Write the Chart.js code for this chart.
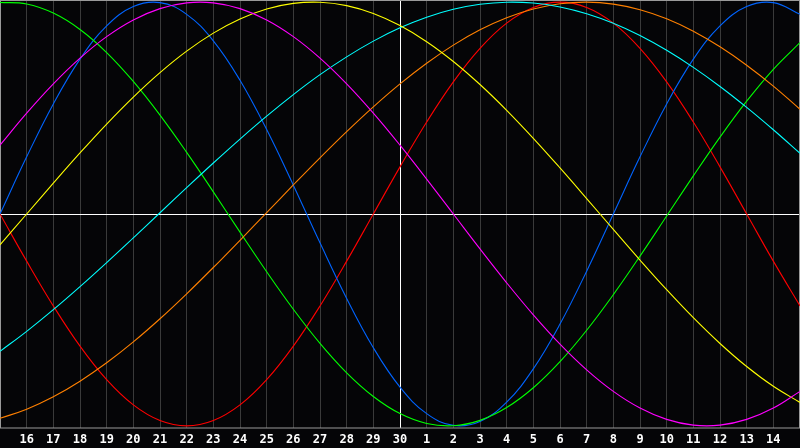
<!DOCTYPE html>
<html>
<head>
<meta charset="utf-8">
<title>Biorhythm</title>
<script src="https://cdn.jsdelivr.net/npm/chart.js@4/dist/chart.umd.min.js"></script>
<style>
  html, body { margin: 0; padding: 0; background: #050507; }
  canvas { display: block; }
</style>
</head>
<body>
<canvas id="bioChart" width="800" height="448"></canvas>
<script>
// days shown on the axis (15 .. 30, 1 .. 15), today = 30
const days = [15, 16, 17, 18, 19, 20, 21, 22, 23, 24, 25, 26, 27, 28, 29, 30,
              1, 2, 3, 4, 5, 6, 7, 8, 9, 10, 11, 12, 13, 14, 15];

const physical = [0, 0.2698, 0.5196, 0.7308, 0.8879, 0.9791, 0.9977, 0.9423, 0.8170, 0.6311, 0.3984,
  0.1362, -0.1362, -0.3984, -0.6311, -0.8170, -0.9423, -0.9977, -0.9791, -0.8879, -0.7308,
  -0.5196, -0.2698, 0, 0.2698, 0.5196, 0.7308, 0.8879, 0.9791, 0.9977, 0.9423];

const emotional = [0, -0.2225, -0.4339, -0.6235, -0.7818, -0.9010, -0.9749, -1, -0.9749, -0.9010, -0.7818,
  -0.6235, -0.4339, -0.2225, 0, 0.2225, 0.4339, 0.6235, 0.7818, 0.9010, 0.9749,
  1, 0.9749, 0.9010, 0.7818, 0.6235, 0.4339, 0.2225, 0, -0.2225, -0.4339];

const intellectual = [0.9984, 0.9911, 0.9481, 0.8708, 0.7620, 0.6255, 0.4666, 0.2908, 0.1045, -0.0856, -0.2726,
  -0.4497, -0.6107, -0.7496, -0.8612, -0.9418, -0.9884, -0.9993, -0.9740, -0.9135, -0.8201,
  -0.6970, -0.5486, -0.3805, -0.1986, -0.0095, 0.1799, 0.3628, 0.5326, 0.6831, 0.8090];

const intuitive = [0.3247, 0.4759, 0.6142, 0.7357, 0.8372, 0.9158, 0.9694, 0.9966, 0.9966, 0.9694, 0.9158,
  0.8372, 0.7357, 0.6142, 0.4759, 0.3247, 0.1646, 0, -0.1646, -0.3247, -0.4759,
  -0.6142, -0.7357, -0.8372, -0.9158, -0.9694, -0.9966, -0.9966, -0.9694, -0.9158, -0.8372];

const aesthetic = [-0.1456, 0, 0.1456, 0.2881, 0.4245, 0.5518, 0.6672, 0.7686, 0.8536, 0.9204, 0.9675,
  0.9940, 0.9993, 0.9834, 0.9464, 0.8893, 0.8133, 0.7199, 0.6111, 0.4894, 0.3572,
  0.2174, 0.0730, -0.0730, -0.2174, -0.3572, -0.4894, -0.6111, -0.7199, -0.8133, -0.8893];

const awareness = [-0.9642, -0.9214, -0.8628, -0.7891, -0.7022, -0.6036, -0.4944, -0.3766, -0.2525, -0.1240, 0.0065,
  0.1370, 0.2651, 0.3888, 0.5057, 0.6140, 0.7116, 0.7971, 0.8693, 0.9264, 0.9676,
  0.9923, 1.0, 0.9906, 0.9642, 0.9214, 0.8628, 0.7891, 0.7022, 0.6036, 0.4944];

const spiritual = [-0.6483, -0.5537, -0.4514, -0.3426, -0.2291, -0.1124, 0.0059, 0.1242, 0.2407, 0.3537, 0.4619,
  0.5636, 0.6576, 0.7417, 0.8159, 0.8786, 0.9289, 0.9662, 0.9899, 0.9997, 0.9955,
  0.9773, 0.9454, 0.9002, 0.8424, 0.7727, 0.6922, 0.6020, 0.5033, 0.3977, 0.2864];

const todayIndex = 15;

function serie(label, data, color) {
    return {label: label, data: data, borderColor: color, borderWidth: 1.1,
            pointRadius: 0, fill: false, tension: 0.4};
}

// grey frame round the plot, under the curves
const frame = {
    id: 'frame',
    beforeDatasetsDraw(chart) {
        const a = chart.chartArea;
        const c = chart.ctx;
        c.save();
        c.strokeStyle = '#9a9a9a';
        c.lineWidth = 1;
        c.strokeRect(0.5, 0.5, chart.width - 1, Math.round(a.bottom) - 0.5);
        c.restore();
    }
};

const ctx = document.getElementById('bioChart').getContext('2d');

const chart = new Chart(ctx, {
    type: 'line',
    data: {
        labels: days,
        datasets: [
            serie('Intuitive', intuitive, '#ff00ff'),
            serie('Aesthetic', aesthetic, '#ffff00'),
            serie('Spiritual', spiritual, '#00ffff'),
            serie('Awareness', awareness, '#ff8000'),
            serie('Intellectual', intellectual, '#00ff00'),
            serie('Physical', physical, '#0064ff'),
            serie('Emotional', emotional, '#ff0000')
        ]
    },
    options: {
        responsive: false,
        animation: false,
        layout: {padding: {left: 0, right: 0, top: 0, bottom: 2}},
        plugins: {legend: {display: false}, tooltip: {enabled: false}},
        scales: {
            x: {
                border: {display: false},
                grid: {
                    drawTicks: true,
                    tickLength: 6,
                    tickColor: 'transparent',
                    color: c => {
                        if (c.index === 0 || c.index === days.length - 1) return 'transparent';
                        return c.index === todayIndex ? '#ffffff' : '#3a3a3a';
                    }
                },
                ticks: {
                    autoSkip: false,
                    maxRotation: 0,
                    padding: 0,
                    color: '#ffffff',
                    font: {family: 'DejaVu Sans Mono', size: 12, weight: 'bold', lineHeight: 1},
                    callback: function (v, i) {
                        if (i === 0 || i === days.length - 1) return '';
                        return this.getLabelForValue(v);
                    }
                }
            },
            y: {
                min: -1.01,
                max: 1.01,
                border: {display: false},
                afterBuildTicks: s => { s.ticks = [{value: 0}]; },
                grid: {drawTicks: false, color: '#ffffff'},
                ticks: {display: false}
            }
        }
    },
    plugins: [frame]
});
</script>
</body>
</html>
